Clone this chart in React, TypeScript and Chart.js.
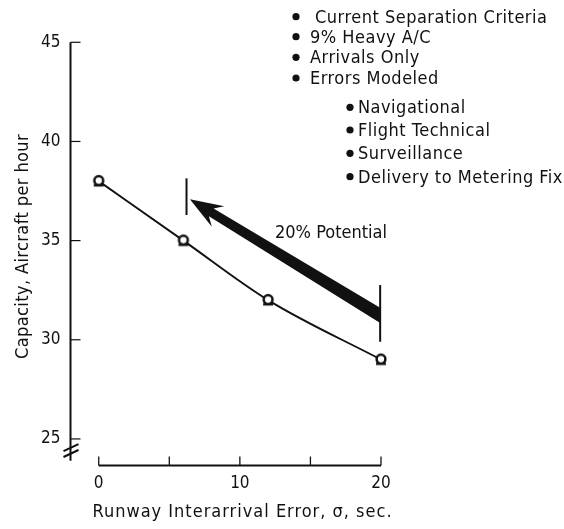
import React, { useEffect, useRef } from 'react';
import { Chart, registerables } from 'chart.js';

Chart.register(...registerables);

// ---- data ----
const errorSec = [0, 6, 12, 20];
const capacity = [38, 35, 32, 29];
const xTickValues = [0, 5, 10, 15, 20];
const xTickShown = [0, 10, 20];
const yTickValues = [25, 30, 35, 40, 45];
const conditions = ['Current Separation Criteria', '9% Heavy A/C', 'Arrivals Only', 'Errors Modeled'];
const errorTypes = ['Navigational', 'Flight Technical', 'Surveillance', 'Delivery to Metering Fix'];
const potentialLabel = '20% Potential';
const potentialArrow = { fromX: 20, fromY: 31.2, toX: 6.46, toY: 37.08 };
const potentialBars = [
  { x: 6.22, y0: 36.29, y1: 38.14 },
  { x: 19.94, y0: 29.9, y1: 32.76 },
];
const xTitle = 'Runway Interarrival Error, \u03C3, sec.';
const yTitle = 'Capacity, Aircraft per hour';

const X_MIN = -2;
const X_MAX = 20;
const Y_MIN = 23.66;
const Y_MAX = 45;
const Y_AXIS_END = 23.9;
const BREAK_VALUES = [24.59, 24.29];

const FONT = '"DejaVu Sans Condensed", "DejaVu Sans", "Liberation Sans Narrow", sans-serif';
const INK = '#111';

function makeMarker(): HTMLCanvasElement {
  const c = document.createElement('canvas');
  c.width = 16;
  c.height = 16;
  const g = c.getContext('2d')!;
  g.fillStyle = '#fff';
  g.strokeStyle = INK;
  g.lineWidth = 2.5;
  g.beginPath();
  g.arc(8, 7.5, 4.4, 0, Math.PI * 2);
  g.fill();
  g.stroke();
  g.lineWidth = 2.2;
  g.beginPath();
  g.moveTo(3, 12.3);
  g.lineTo(13, 12.3);
  g.stroke();
  return c;
}

function setSpacing(ctx: any, s: string) {
  try {
    ctx.letterSpacing = s;
  } catch (e) {
    /* ignore */
  }
}

const decorPlugin = {
  id: 'decor',
  afterDraw(chart: any) {
    const { ctx, scales } = chart;
    const xs = scales.x;
    const ys = scales.y;
    const px = (v: number) => xs.getPixelForValue(v);
    const py = (v: number) => ys.getPixelForValue(v);
    ctx.save();
    ctx.strokeStyle = INK;
    ctx.fillStyle = INK;
    ctx.lineCap = 'butt';

    // y axis line
    const ax = px(X_MIN);
    ctx.lineWidth = 2;
    ctx.beginPath();
    ctx.moveTo(ax, py(Y_MAX));
    ctx.lineTo(ax, py(Y_AXIS_END));
    ctx.stroke();
    // y ticks (inward)
    ctx.lineWidth = 1.2;
    yTickValues.forEach((v) => {
      ctx.beginPath();
      ctx.moveTo(ax, py(v));
      ctx.lineTo(ax + 10, py(v));
      ctx.stroke();
    });
    // axis break
    ctx.lineWidth = 2;
    BREAK_VALUES.forEach((v) => {
      const yy = py(v);
      ctx.beginPath();
      ctx.moveTo(ax - 7, yy + 4);
      ctx.lineTo(ax + 8, yy - 3);
      ctx.stroke();
    });

    // x axis line
    const by = py(Y_MIN);
    ctx.lineWidth = 2;
    ctx.beginPath();
    ctx.moveTo(px(xTickValues[0]), by);
    ctx.lineTo(px(xTickValues[xTickValues.length - 1]), by);
    ctx.stroke();
    ctx.lineWidth = 1.3;
    xTickValues.forEach((v) => {
      ctx.beginPath();
      ctx.moveTo(px(v), by);
      ctx.lineTo(px(v), by - 9);
      ctx.stroke();
    });

    // potential bars
    ctx.lineWidth = 2;
    potentialBars.forEach((b) => {
      ctx.beginPath();
      ctx.moveTo(px(b.x), py(b.y0));
      ctx.lineTo(px(b.x), py(b.y1));
      ctx.stroke();
    });

    // arrow
    const sx = px(potentialArrow.fromX), sy = py(potentialArrow.fromY);
    const tx = px(potentialArrow.toX), ty = py(potentialArrow.toY);
    const len = Math.hypot(tx - sx, ty - sy);
    const ux = (tx - sx) / len, uy = (ty - sy) / len;
    const nx = -uy, ny = ux;
    const headLen = 33, headHalf = 12, joinBack = 25, tailHalf = 6.5, joinHalf = 4.5;
    const bx = tx - ux * headLen, bY = ty - uy * headLen;
    const jx = tx - ux * joinBack, jy = ty - uy * joinBack;
    const tailV = tailHalf / Math.abs(ux);
    ctx.beginPath();
    ctx.moveTo(sx, sy - tailV);
    ctx.lineTo(jx + nx * joinHalf, jy + ny * joinHalf);
    ctx.lineTo(bx + nx * headHalf, bY + ny * headHalf);
    ctx.lineTo(tx, ty);
    ctx.lineTo(bx - nx * headHalf, bY - ny * headHalf);
    ctx.lineTo(jx - nx * joinHalf, jy - ny * joinHalf);
    ctx.lineTo(sx, sy + tailV);
    ctx.closePath();
    ctx.fill();

    // texts
    ctx.font = `18px ${FONT}`;
    ctx.textBaseline = 'alphabetic';
    ctx.textAlign = 'left';
    setSpacing(ctx, '0px');
    ctx.fillText(potentialLabel, 275, 238);

    setSpacing(ctx, '0.5px');
    const mainBase = [22.7, 42.7, 63.3, 84];
    conditions.forEach((t, i) => {
      ctx.beginPath();
      ctx.arc(296, mainBase[i] - 6, 3.6, 0, Math.PI * 2);
      ctx.fill();
      ctx.fillText(t, i === 0 ? 315 : 310, mainBase[i]);
    });
    const subBase = [113.3, 136, 159.3, 182.7];
    errorTypes.forEach((t, i) => {
      ctx.beginPath();
      ctx.arc(350, subBase[i] - 6, 3.6, 0, Math.PI * 2);
      ctx.fill();
      ctx.fillText(t, 358, subBase[i]);
    });

    // axis titles
    ctx.textAlign = 'left';
    setSpacing(ctx, '1px');
    const wx = ctx.measureText(xTitle).width;
    ctx.fillText(xTitle, 242.5 - wx / 2, 517);
    setSpacing(ctx, '0.4px');
    const wy = ctx.measureText(yTitle).width;
    ctx.save();
    ctx.translate(28, 246.5);
    ctx.rotate(-Math.PI / 2);
    ctx.fillText(yTitle, -wy / 2, 0);
    ctx.restore();
    setSpacing(ctx, '0px');

    ctx.restore();
  },
};

export default function App() {
  const ref = useRef<HTMLCanvasElement>(null);
  useEffect(() => {
    if (!ref.current) return;
    const marker = makeMarker();
    const chart = new Chart(ref.current, {
      type: 'line',
      data: {
        datasets: [
          {
            data: errorSec.map((x, i) => ({ x, y: capacity[i] })),
            borderColor: INK,
            borderWidth: 1.9,
            cubicInterpolationMode: 'monotone',
            pointStyle: marker as any,
            pointRadius: 7,
            fill: false,
            clip: false as any,
          },
        ],
      },
      options: {
        animation: false,
        responsive: false,
        layout: { padding: { left: 0, top: 42.3, right: 183, bottom: 0 } },
        plugins: { legend: { display: false }, tooltip: { enabled: false } },
        scales: {
          x: {
            type: 'linear',
            min: X_MIN,
            max: X_MAX,
            grid: { display: false, drawTicks: false },
            border: { display: false },
            afterBuildTicks: (s: any) => {
              s.ticks = xTickValues.map((v) => ({ value: v }));
            },
            afterFit: (s: any) => {
              s.height = 63.5;
            },
            ticks: {
              autoSkip: false,
              maxRotation: 0,
              padding: 8,
              color: INK,
              font: { family: FONT, size: 17 },
              callback: (v: any) => (xTickShown.includes(Number(v)) ? String(v) : ''),
            },
          },
          y: {
            type: 'linear',
            min: Y_MIN,
            max: Y_MAX,
            grid: { display: false, drawTicks: false },
            border: { display: false },
            afterBuildTicks: (s: any) => {
              s.ticks = yTickValues.map((v) => ({ value: v }));
            },
            afterFit: (s: any) => {
              s.width = 70.5;
            },
            ticks: {
              autoSkip: false,
              padding: 10,
              color: INK,
              font: { family: FONT, size: 17 },
              callback: (v: any) => String(v),
            },
          },
        },
      },
      plugins: [decorPlugin],
    });
    return () => chart.destroy();
  }, []);
  return (
    <div style={{ position: 'absolute', left: 0, top: 0, width: 564, height: 529, background: '#fff' }}>
      <canvas ref={ref} width={564} height={529} />
    </div>
  );
}
